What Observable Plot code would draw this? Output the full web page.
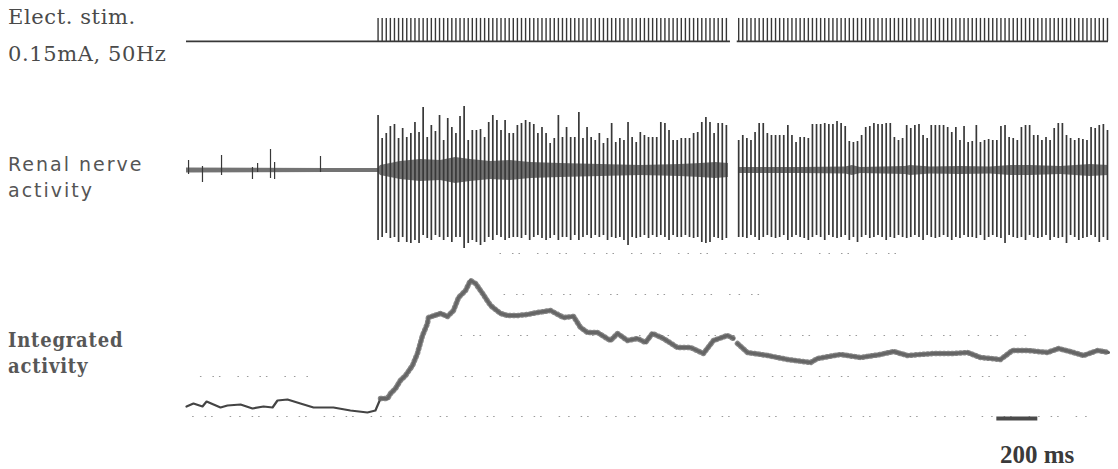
<!DOCTYPE html>
<html>
<head>
<meta charset="utf-8">
<script src="https://cdn.jsdelivr.net/npm/d3@7"></script>
<script src="https://cdn.jsdelivr.net/npm/@observablehq/plot@0.6"></script>
<style>
  body { margin: 0; background: #fff; }
  #fig { position: relative; width: 1118px; height: 469px; overflow: hidden; background: #fff; }
  #fig svg { position: absolute; left: 0; background: transparent; }
  .lab { position: absolute; left: 8px; color: #4a4a4a; white-space: nowrap; line-height: 1; }
  .stim { font-family: "DejaVu Serif", serif; font-size: 21px; letter-spacing: 0.6px; }
  .renal { font-family: "DejaVu Sans", sans-serif; font-size: 19px; letter-spacing: 2px; color: #555; }
  .integ { font-family: "DejaVu Serif Condensed", "DejaVu Serif", serif; font-weight: bold; font-size: 20px; letter-spacing: 0.8px; color: #575757; }
  .bar { font-family: "Liberation Serif", serif; font-weight: bold; font-size: 25px; color: #3a3a3a; }
</style>
</head>
<body>
<div id="fig">
  <div class="lab stim" style="top:7px">Elect. stim.</div>
  <div class="lab stim" style="top:44px">0.15mA, 50Hz</div>
  <div class="lab renal" style="top:155px">Renal nerve</div>
  <div class="lab renal" style="top:181px">activity</div>
  <div class="lab integ" style="top:330px">Integrated</div>
  <div class="lab integ" style="top:356px">activity</div>
  <div class="lab bar" style="top:442px;left:1000px">200 ms</div>
</div>
<script>
// ---- Sweep timing (ms from start of the record) ----
const sweepMs = [0, 4500];
const stimOnsetMs = 935;
const stimPeriodMs = 20;            // 50 Hz train
const stimAmpMA = 0.15;
const recordingBreakMs = [2655, 2688];
const scaleBarMs = [3955, 4155];     // 200 ms calibration bar

// ---- Renal nerve: stimulus artefact excursions (µV), one per pulse ----
// pulses before the recording break
const artefactUpA = [55,32,37,44,46,32,42,33,37,48, 38,63,33,45,39,55,30,52,43,37,
  54,64,30,40,40,41,33,48,55,50, 40,50,37,37,45,47,50,48,46,37,
  43,37,27,32,55,33,43,33,33,58, 32,43,33,30,37,27,32,47,28,32,
  30,48,33,28,38,35,33,33,33,48, 47,40,30,30,32,32,32,37,38,48, 53,48,37,47,47,45];
const artefactDownA = [70,67,63,68,67,72,67,72,73,70, 73,65,68,70,65,67,70,67,72,67,
  67,78,73,70,72,75,72,67,70,65, 67,70,68,67,67,68,65,70,67,65,
  68,70,68,65,70,67,67,70,65,70, 67,65,68,65,67,65,70,67,68,67,
  70,75,67,68,67,65,68,65,67,65, 67,70,65,67,67,65,67,68,67,72, 73,72,67,68,70,68];
// pulses after the recording break
const artefactUpB = [30,35,32,30,38,47,47,37,35,35, 35,35,45,35,28,33,33,32,46,46,
  46,47,46,46,49,47,44,29,28,29, 35,43,44,47,46,46,47,47,33,30,
  32,45,42,45,46,35,32,45,45,45, 45,43,38,43,30,44,28,29,45,28,
  30,31,30,30,44,45,33,32,30,43, 45,45,35,35,30,33,30,42,47,47,
  35,32,30,32,31,30,43,42,45,46, 40];
const artefactDownB = [67,67,68,65,67,70,67,65,67,68, 67,65,70,67,65,67,68,70,67,65,
  67,70,65,67,68,67,65,70,67,72, 67,65,68,67,65,67,70,67,68,65,
  67,68,67,65,67,70,65,67,68,67, 65,67,70,67,68,65,67,67,68,65,
  70,67,65,67,68,73,65,67,68,67, 70,65,67,68,67,65,70,67,68,67,
  73,65,67,70,68,67,65,67,72,67, 70];

// spontaneous spikes before stimulation
const spontMs   = [10, 78, 171, 322, 347, 410, 430, 654];
const spontUpUV = [10, 4, 15, 3, 7, 21, 8, 14];
const spontDnUV = [4, 12, 5, 9, 2, 8, 9, 2];

// half-width of the nerve activity band around baseline (µV)
const bandMs = [0,700,935,947,996,1044,1142,1240,1313,1386, 1484,1581,1679,1825,2021,2216,2411,2509,2582,2645,
  2694,2801,2997,3216,3250,3290,3509,3534,3631,3778, 3924,4022,4119,4266,4412,4500];
const bandHalfUV = [2.5,2,2,5,7,9,11,10,13,11, 9,10,8,7,6,5,6,7,8,7,
  3,3,3,3.5,5,3,4,5,3.5,4, 3.5,5,5,4,6,5];

// ---- Integrated nerve activity (arbitrary units) ----
const integMs = [0,34,78,98,166,200,264,322,376,420, 444,493,556,620,717,800,883,922,947,981,
  996,1020,1044,1069,1103,1127,1152,1176,1181,1240, 1274,1303,1328,1362,1386,1411,1445,1484,1533,1567,
  1616,1664,1713,1777,1840,1889,1923,1957,2006,2069, 2104,2152,2201,2240,2274,2328,2396,2460,2523,2572,
  2640,2670,2680,2689,2738,2836,2933,3046,3080,3192, 3290,3387,3451,3519,3646,3744,3812,3875,3973,4031,
  4105,4202,4256,4329,4378,4446,4500];
const integAU = [2.4,2.7,2.4,2.9,2.3,2.5,2.6,2.2,2.4,2.3, 3.0,3.1,2.7,2.3,2.3,2.0,1.8,2.0,3.2,3.2,
  3.7,4.2,5.0,5.5,6.5,7.7,9.5,10.7,11.3,11.7, 11.4,12.0,13.3,14.0,15.0,14.7,13.7,12.5,11.7,11.5,
  11.5,11.6,11.8,12.0,11.3,11.4,10.3,9.8,9.8,9.0, 9.7,9.0,9.2,8.8,9.7,9.2,8.3,8.3,7.7,9.0,
  9.5,9.2,null,8.7,7.8,7.5,7.1,6.8,7.2,7.6, 7.3,7.6,7.9,7.5,7.7,7.7,7.8,7.3,7.1,8.0,
  8.0,7.8,8.2,7.8,7.5,8.0,7.8];

// faint dotted rows of the chart paper
const paperRowsInteg = [
  {v: 13.6, t1: 1550, t2: 2800},
  {v: 9.5, t1: 1340, t2: 4150},
  {v: 5.4, t1: 68, t2: 615},
  {v: 5.4, t1: 1300, t2: 4300},
  {v: 1.4, t1: 30, t2: 4400}
];
const paperRowsNerve = [{v: -83, t1: 1530, t2: 3500}];

// ---- Build tables ----
const pulses = [];
for (let t = stimOnsetMs; t <= sweepMs[1]; t += stimPeriodMs) {
  if (t >= recordingBreakMs[0] && t <= recordingBreakMs[1]) continue;
  pulses.push({t});
}
const before = pulses.filter(p => p.t < recordingBreakMs[0]);
const after = pulses.filter(p => p.t > recordingBreakMs[1]);
before.forEach((p, i) => { p.up = artefactUpA[i]; p.down = artefactDownA[i]; });
after.forEach((p, i) => { p.up = artefactUpB[i]; p.down = artefactDownB[i]; });
const artefacts = before.concat(after).filter(p => p.up != null);

const stimBaseline = [
  {t1: sweepMs[0], t2: recordingBreakMs[0]},
  {t1: recordingBreakMs[1], t2: sweepMs[1]}
];

const spont = spontMs.map((t, i) => ({t, up: spontUpUV[i], down: spontDnUV[i]}));

const band = [];
bandMs.forEach((t, i) => {
  band.push({t, w: bandHalfUV[i]});
  if (t === 2645) band.push({t: 2670, w: null});
});

const integ = integMs.map((t, i) => ({t, v: integAU[i]}));
const integPre = integ.filter(d => d.t <= stimOnsetMs + 12);
const integPost = integ.filter(d => d.t >= stimOnsetMs + 12);

const ink = "#383838";
const paperDots = {stroke: "#9a9a9a", strokeWidth: 1.2, strokeDasharray: "1.5 11 1.5 5 1.5 17 1.5 8"};
const common = {width: 1118, marginLeft: 186, marginRight: 10, marginTop: 0, marginBottom: 0,
  x: {domain: sweepMs, axis: null}, style: {background: "transparent"}};

// ---- Stimulus trace ----
const stimPlot = Plot.plot({
  ...common, height: 60,
  y: {domain: [-0.124, 0.267], axis: null},
  marks: [
    Plot.ruleY(stimBaseline, {x1: "t1", x2: "t2", y: () => 0, stroke: ink, strokeWidth: 1.8}),
    Plot.ruleX(pulses, {x: "t", y1: () => 0, y2: () => stimAmpMA, stroke: ink, strokeWidth: 1.4})
  ]
});

// ---- Renal nerve activity ----
const nervePlot = Plot.plot({
  ...common, height: 160,
  y: {domain: [-85, 75], axis: null},
  marks: [
    Plot.ruleY(paperRowsNerve, {x1: "t1", x2: "t2", y: "v", ...paperDots}),
    Plot.areaY(band, {x: "t", y1: d => d.w == null ? null : -d.w, y2: "w", fill: "#5a5a5a", fillOpacity: 0.85, curve: "linear"}),
    Plot.ruleX(spont, {x: "t", y1: d => -d.down, y2: "up", stroke: ink, strokeWidth: 1.2}),
    Plot.ruleX(artefacts, {x: "t", y1: d => -d.down, y2: "up", stroke: ink, strokeWidth: 1.7})
  ]
});

// ---- Integrated activity ----
const integPlot = Plot.plot({
  ...common, height: 209,
  y: {domain: [-3.9, 17], axis: null},
  marks: [
    Plot.ruleY(paperRowsInteg, {x1: "t1", x2: "t2", y: "v", ...paperDots}),
    Plot.line(integPre, {x: "t", y: "v", stroke: "#444", strokeWidth: 2.2, curve: "linear"}),
    Plot.line(integPost, {x: "t", y: "v", stroke: "#5e5e5e", strokeWidth: 3, curve: "linear"}),
    // stimulus ripple riding on the integrated trace
    Plot.line(integPost, {x: "t", y: "v", stroke: "#666", strokeOpacity: 0.8, strokeWidth: 5.5, strokeDasharray: "1.2 2.9", curve: "linear"}),
    Plot.ruleY([scaleBarMs], {x1: d => d[0], x2: d => d[1], y: () => 1.2, stroke: "#4a4a4a", strokeWidth: 4})
  ]
});

const fig = document.getElementById("fig");
[[stimPlot, 0], [nervePlot, 95], [integPlot, 260]].forEach(([svg, top]) => {
  svg.style.top = top + "px";
  fig.appendChild(svg);
});
</script>
</body>
</html>
